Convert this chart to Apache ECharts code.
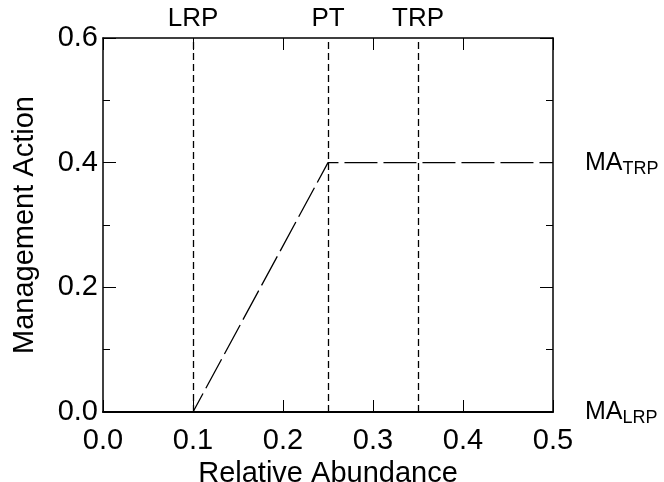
<!DOCTYPE html>
<html>
<head>
<meta charset="utf-8">
<script src="https://cdn.jsdelivr.net/npm/echarts@6/dist/echarts.min.js"></script>
<style>html,body{margin:0;padding:0;background:#fff}#c{width:664px;height:482px}</style>
</head>
<body>
<div id="c"></div>
<script>
const abundance = [0, 0.1, 0.25, 0.5];
const action = [0, 0, 0.4, 0.4];
const refPoints = [0.1, 0.25, 0.35];
const refNames = ['LRP', 'PT', 'TRP'];
const maValues = [0, 0.4];
const maNames = ['LRP', 'TRP'];

const FONT = 'Liberation Sans, Arial, Helvetica, sans-serif';
const chart = echarts.init(document.getElementById('c'), null, {renderer: 'canvas'});

const axisLineStyle = {color: '#000', width: 1.5};
const tickStyle = {color: '#000', width: 1};

chart.setOption({
  backgroundColor: '#fff',
  animation: false,
  grid: {left: 103, right: 111, top: 38, bottom: 70, containLabel: false, outerBoundsMode: 'none'},
  xAxis: [{
    type: 'value', min: 0, max: 0.5, interval: 0.1, position: 'bottom',
    name: 'Relative Abundance', nameLocation: 'middle', nameGap: 39,
    nameTextStyle: {fontFamily: FONT, fontSize: 29, color: '#000'},
    axisLine: {show: true, onZero: false, lineStyle: {color: '#000', width: 2}},
    axisTick: {show: true, inside: true, length: 12, lineStyle: tickStyle},
    axisLabel: {show: true, margin: 14, fontFamily: FONT, fontSize: 29, color: '#000',
      formatter: v => v.toFixed(1)},
    splitLine: {show: false}
  }, {
    type: 'value', min: 0, max: 0.5, interval: 0.1, position: 'top',
    axisLine: {show: true, onZero: false, lineStyle: axisLineStyle},
    axisTick: {show: true, inside: true, length: 12, lineStyle: tickStyle},
    axisLabel: {show: false},
    splitLine: {show: false}
  }],
  yAxis: [{
    type: 'value', min: 0, max: 0.6, interval: 0.2, position: 'left',
    name: 'Management Action', nameLocation: 'middle', nameGap: 64, nameRotate: 90,
    nameTextStyle: {fontFamily: FONT, fontSize: 29, color: '#000'},
    axisLine: {show: true, onZero: false, lineStyle: axisLineStyle},
    axisTick: {show: true, inside: true, length: 13, lineStyle: tickStyle},
    minorTick: {show: true, splitNumber: 2, length: 7, lineStyle: tickStyle},
    axisLabel: {show: true, margin: 5, fontFamily: FONT, fontSize: 29, color: '#000',
      formatter: v => v.toFixed(1)},
    splitLine: {show: false}
  }, {
    type: 'value', min: 0, max: 0.6, interval: 0.2, position: 'right',
    axisLine: {show: true, onZero: false, lineStyle: axisLineStyle},
    axisTick: {show: true, inside: true, length: 13, lineStyle: tickStyle},
    minorTick: {show: true, splitNumber: 2, length: 7, lineStyle: tickStyle},
    axisLabel: {show: true, margin: 32, align: 'left',
      formatter: v => {
        for (let i = 0; i < maValues.length; i++) {
          if (Math.abs(v - maValues[i]) < 1e-9) return '{m|MA}{s|' + maNames[i] + '}';
        }
        return '';
      },
      rich: {
        m: {fontFamily: FONT, fontSize: 25, color: '#000', lineHeight: 30},
        s: {fontFamily: FONT, fontSize: 18, color: '#000', lineHeight: 15, verticalAlign: 'bottom'}
      }
    },
    splitLine: {show: false}
  }],
  series: [{
    type: 'line',
    xAxisIndex: 0, yAxisIndex: 0,
    data: abundance.map((x, i) => [x, action[i]]),
    symbol: 'none',
    lineStyle: {color: '#000', width: 1.3, type: [33, 6]},
    markLine: {
      silent: true, symbol: ['none', 'none'], animation: false,
      lineStyle: {color: '#000', width: 1.3, type: [7, 4]},
      label: {show: true, position: 'end', distance: 6, formatter: '{b}',
        fontFamily: FONT, fontSize: 26, color: '#000'},
      data: refPoints.map((x, i) => ({xAxis: x, name: refNames[i]}))
    }
  }]
});
</script>
</body>
</html>
